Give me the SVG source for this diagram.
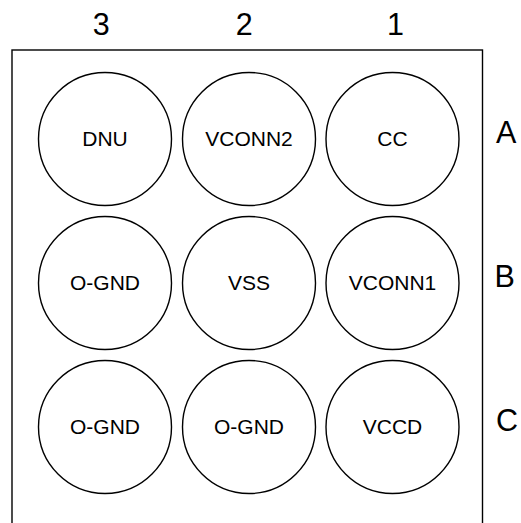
<svg xmlns="http://www.w3.org/2000/svg" width="521" height="523" viewBox="0 0 521 523">
<style>
.pin{fill:#fff;stroke:#000;stroke-width:1.4}
.pt{font-family:"Liberation Sans",Arial,sans-serif;font-size:21px;fill:#000;text-anchor:middle}
.lbl{font-family:"Liberation Sans",Arial,sans-serif;font-size:30.5px;fill:#000}
</style>
<rect width="521" height="523" fill="#fff"/>
<rect id="package" x="12" y="50" width="470.5" height="520" fill="none" stroke="#000" stroke-width="1.4"/>
<g id="col-labels" class="lbl" text-anchor="middle">
<text x="101.2" y="35.3">3</text>
<text x="244.2" y="35.3">2</text>
<text x="395.6" y="35.3">1</text>
</g>
<g id="row-labels" class="lbl">
<text x="496" y="143">A</text>
<text x="494.6" y="287.3">B</text>
<text x="496" y="431">C</text>
</g>
<g id="A3"><circle class="pin" cx="105" cy="139" r="66.5"/><text class="pt" x="105" y="146">DNU</text></g>
<g id="A2"><circle class="pin" cx="249" cy="139" r="66.5"/><text class="pt" x="249" y="146">VCONN2</text></g>
<g id="A1"><circle class="pin" cx="392.5" cy="139" r="66.5"/><text class="pt" x="392.5" y="146">CC</text></g>
<g id="B3"><circle class="pin" cx="105" cy="283" r="66.5"/><text class="pt" x="105" y="290">O-GND</text></g>
<g id="B2"><circle class="pin" cx="249" cy="283" r="66.5"/><text class="pt" x="249" y="290">VSS</text></g>
<g id="B1"><circle class="pin" cx="392.5" cy="283" r="66.5"/><text class="pt" x="392.5" y="290">VCONN1</text></g>
<g id="C3"><circle class="pin" cx="105" cy="427" r="66.5"/><text class="pt" x="105" y="434">O-GND</text></g>
<g id="C2"><circle class="pin" cx="249" cy="427" r="66.5"/><text class="pt" x="249" y="434">O-GND</text></g>
<g id="C1"><circle class="pin" cx="392.5" cy="427" r="66.5"/><text class="pt" x="392.5" y="434">VCCD</text></g>
<g id="connectors"/>
</svg>
